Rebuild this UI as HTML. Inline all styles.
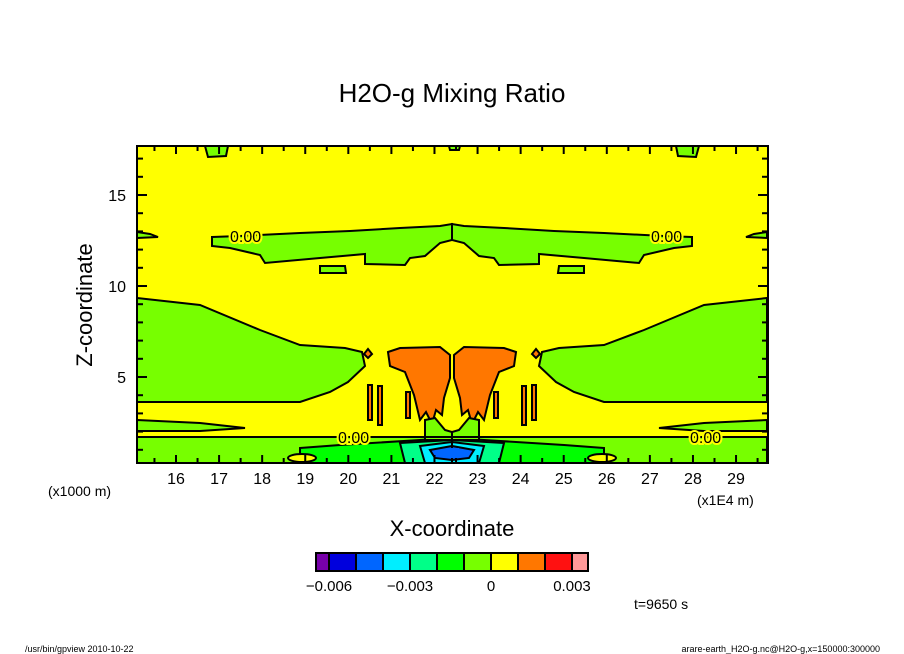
<!DOCTYPE html>
<html><head><meta charset="utf-8"><style>
body{margin:0;background:#fff;}
svg{display:block;font-family:"Liberation Sans",sans-serif;}
.lbl{paint-order:stroke;stroke:#ffff00;stroke-width:4px;}
</style></head><body>
<svg width="904" height="654" viewBox="0 0 904 654">
<text x="452" y="102" text-anchor="middle" font-size="26">H2O-g Mixing Ratio</text>
<defs><clipPath id="pc"><rect x="137" y="146" width="631" height="317"/></clipPath></defs>
<g clip-path="url(#pc)" stroke="#000" stroke-width="2">
<rect x="137" y="146" width="631" height="317" fill="#ffff00" stroke="none"/>
<g id="half">
<polygon fill="#77ff00" points="137,298 200,305 260,330 300,345 345,348 362,352 365,366 348,382 330,392 300,402 137,402"/>
<polygon fill="#77ff00" points="212,237 240,236 300,233 350,231 400,228 440,226 452,224 452,240 440,243 425,256 410,258 405,265 365,264 365,254 320,258 265,263 260,255 230,248 212,246"/>
<polygon fill="#77ff00" points="320,266 345,266 346,273 320,273"/>
<polygon fill="#77ff00" points="205,146 228,146 226,156 208,157"/>
<polygon fill="#77ff00" points="137,232 150,234 158,237 137,238"/>
<polygon fill="#77ff00" points="137,420 200,423 245,428 200,431 137,431"/>
<polygon fill="#77ff00" points="137,437 452,437 452,463 137,463"/>
<polygon fill="#ff7700" points="388,352 400,348 440,347 450,355 450,378 444,398 442,415 436,410 432,424 426,412 420,420 414,395 405,372 390,366"/>
<polygon fill="#ff7700" points="368,385 372,385 372,420 368,420"/>
<polygon fill="#ff7700" points="378,386 382,386 382,425 378,425"/>
<polygon fill="#ff7700" points="406,392 410,392 410,418 406,418"/>
<polygon fill="#ff7700" points="368,349 372,354 368,358 364,354"/>
<polygon fill="#00ff00" points="300,448 340,445 420,440 452,438 452,463 300,463"/>
<polygon fill="#00ff88" points="400,443 452,440 452,463 405,463"/>
<polygon fill="#00eeff" points="420,446 452,442 452,463 425,463"/>
<polygon fill="#0066ff" points="430,450 452,446 452,460 435,458"/>
<polygon fill="#77ff00" points="425,420 435,418 445,430 452,432 452,440 425,440"/>
<ellipse cx="302" cy="458" rx="14" ry="4" fill="#ffff00"/>
<line x1="137" y1="402" x2="300" y2="402" fill="none"/>
<line x1="137" y1="437" x2="452" y2="437" fill="none"/>
</g>
<use href="#half" transform="translate(904,0) scale(-1,1)"/>
<polygon fill="#0066ff" stroke="none" points="447,448 459,448 459,458 447,458"/>
<polygon fill="#77ff00" points="449,146 460,146 459,150 450,150"/>
</g>
<g font-size="16" fill="#000">
<text class="lbl" x="230" y="242">0.00</text>
<text class="lbl" x="651" y="242">0.00</text>
<text class="lbl" x="338" y="443">0.00</text>
<text class="lbl" x="690" y="443">0.00</text>
</g>
<rect x="137" y="146" width="631" height="317" fill="none" stroke="#000" stroke-width="2"/>
<g id="axes"></g>
<text x="452" y="536" text-anchor="middle" font-size="22">X-coordinate</text>
<text x="0" y="0" transform="translate(92,305) rotate(-90)" text-anchor="middle" font-size="22">Z-coordinate</text>
<text x="48" y="496" font-size="14">(x1000 m)</text>
<text x="697" y="505" font-size="14">(x1E4 m)</text>
<g id="cbar"></g>
<text x="634" y="609" font-size="14">t=9650 s</text>
<text x="25" y="652" font-size="9">/usr/bin/gpview  2010-10-22</text>
<text x="880" y="652" text-anchor="end" font-size="9">arare-earth_H2O-g.nc@H2O-g,x=150000:300000</text>
</svg>
<script>
const xTicks=[16,17,18,19,20,21,22,23,24,25,26,27,28,29];
const yTicks=[5,10,15];
const cbColors=["#7700aa","#0000dd","#0066ff","#00eeff","#00ff88","#00ff00","#77ff00","#ffff00","#ff7700","#ff1111","#ff9999"];
const cbLabels=["-0.006","-0.003","0","0.003"];
const cbLabelIdx=[1,4,7,10];
const NS="http://www.w3.org/2000/svg";
const xs=v=>176+(v-16)*43.08, ys=v=>468-v*18.2;
const ax=document.getElementById('axes');
function mk(t,a,p){const e=document.createElementNS(NS,t);for(const k in a)e.setAttribute(k,a[k]);p.appendChild(e);return e;}
for(let v=15.5;v<=29.6;v+=0.5){const x=xs(v),L=(v%1===0)?8:5;
const t1=mk('line',{x1:x,x2:x,y1:463,y2:463-L,stroke:'#000','stroke-width':2},ax);


const t2=mk('line',{x1:x,x2:x,y1:146,y2:146+L,stroke:'#000','stroke-width':2},ax);

}
xTicks.forEach(v=>{const t=mk('text',{x:xs(v),y:484,'text-anchor':'middle','font-size':16},ax);t.textContent=v;

});
for(let v=1;v<=17;v++){const y=ys(v),L=(v%5===0)?10:6;
const t1=mk('line',{x1:137,x2:137+L,y1:y,y2:y,stroke:'#000','stroke-width':2},ax);


const t2=mk('line',{x1:768,x2:768-L,y1:y,y2:y,stroke:'#000','stroke-width':2},ax);

}
yTicks.forEach(v=>{const t=mk('text',{x:126,y:ys(v)+6,'text-anchor':'end','font-size':16},ax);t.textContent=v;

});
const cb=document.getElementById('cbar');
const cbX=[316,329,356,383,410,437,464,491,518,545,572,588];
cbColors.forEach((c,i)=>{const r=mk('rect',{x:cbX[i],y:553,width:cbX[i+1]-cbX[i],height:18,fill:c,stroke:'#000','stroke-width':2},cb);

});
cbLabels.forEach((l,i)=>{const t=mk('text',{x:cbX[cbLabelIdx[i]],y:591,'text-anchor':'middle','font-size':15},cb);t.textContent=l.replace('-','\u2212');

});
</script>
</body></html>
